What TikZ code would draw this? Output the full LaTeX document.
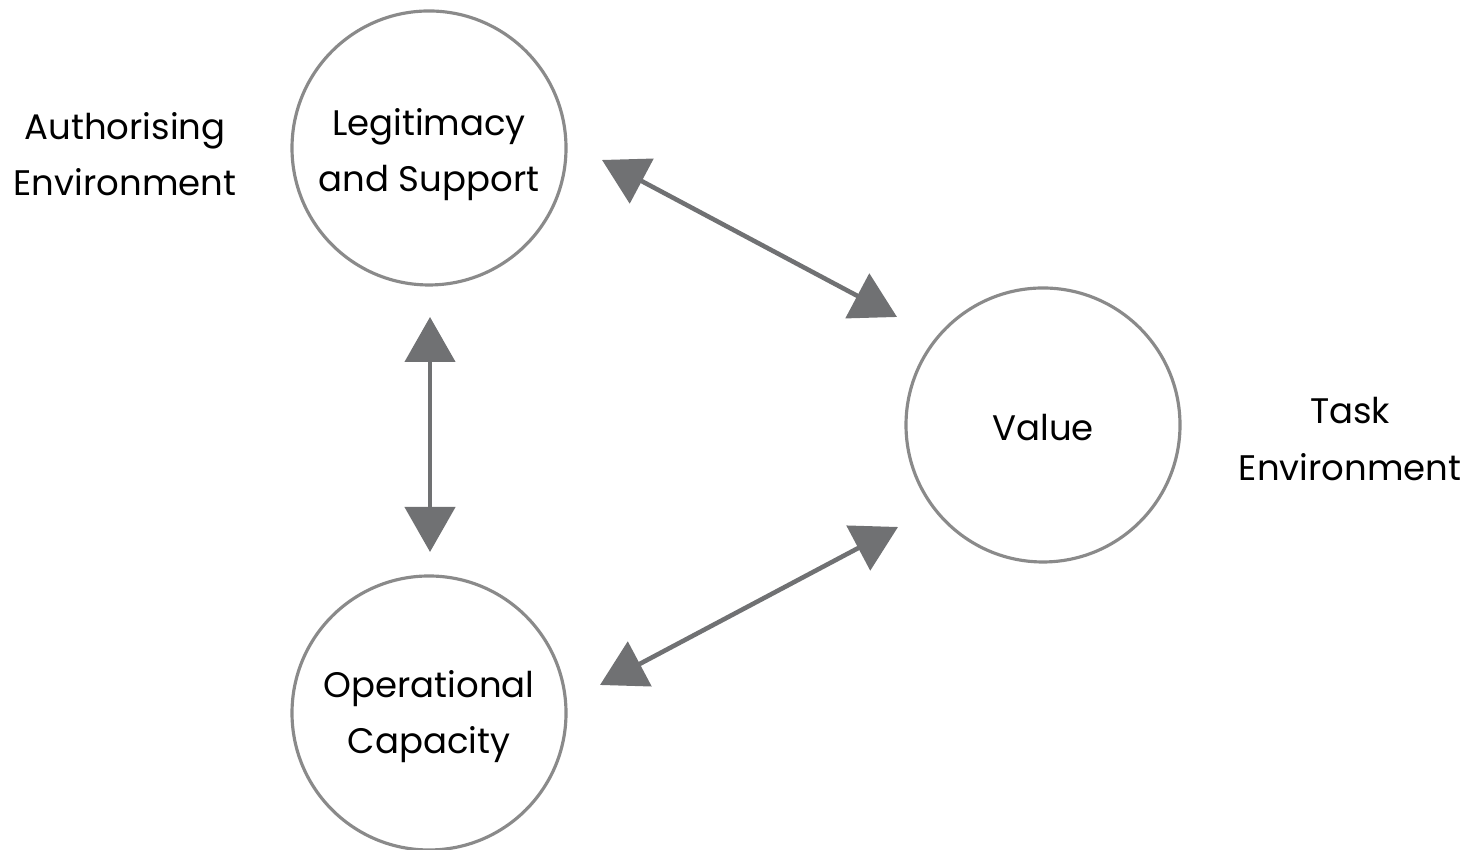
\documentclass[tikz,border=0pt]{standalone}
\usepackage{fontspec}
\setmainfont{Poppins}
\usepackage{tikz}
\usetikzlibrary{positioning,calc,arrows.meta}
\definecolor{ringgray}{HTML}{8A8A8A}
\definecolor{arrgray}{HTML}{707173}

\begin{document}
\begin{tikzpicture}
        \tikzstyle{circ}=[circle, draw=ringgray, line width=0.9pt, inner sep=0pt, minimum width=2.74cm]
        \tikzstyle{lbl}=[align=center, font=\fontsize{10.1}{16}\selectfont]
        \tikzstyle{dbl}=[draw=arrgray, line width=1.3pt, {Triangle[length=0.45cm,width=0.5cm]}-{Triangle[length=0.45cm,width=0.5cm]}, arrgray]

        \useasboundingbox (0,0) rectangle (14.67,8.5);

        \node[circ] (leg) at (4.29,7.02) {};
        \node[circ] (op)  at (4.29,1.37) {};
        \node[circ] (val) at (10.43,4.25) {};
        \node[lbl] (legtxt) at ($(leg)+(0,-0.07)$) {Legitimacy\\and Support};
        \node[lbl] (optxt)  at ($(op)+(0,-0.04)$) {Operational\\Capacity};
        \node[lbl] (valtxt) at ($(val)+(0,-0.03)$) {Value};

        \node[lbl] (auth) at (1.25,6.96) {Authorising\\Environment};
        \node[lbl] (task) at (13.5,4.11) {Task\\Environment};

        \coordinate (lv1) at (6.02,6.90);
        \coordinate (lv2) at (8.97,5.33);
        \coordinate (lo1) at (4.30,5.33);
        \coordinate (lo2) at (4.30,2.98);
        \coordinate (ov1) at (6.00,1.65);
        \coordinate (ov2) at (8.98,3.23);

        \draw[dbl] (lv1) -- (lv2);
        \draw[dbl] (lo1) -- (lo2);
        \draw[dbl] (ov1) -- (ov2);
    \end{tikzpicture}
\end{document}
